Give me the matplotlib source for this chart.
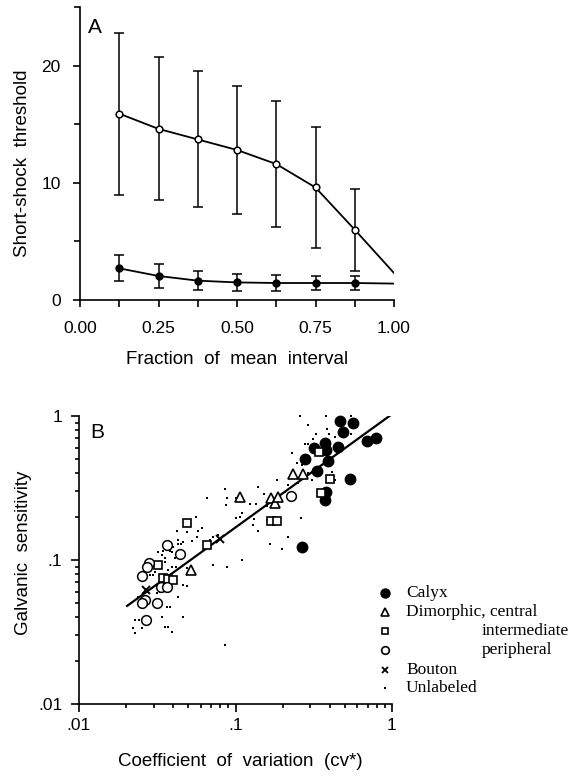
import matplotlib
matplotlib.use('Agg')
import matplotlib.pyplot as plt
from matplotlib.ticker import LogLocator, NullFormatter
from matplotlib.lines import Line2D

plt.rcParams['font.family'] = ['Liberation Sans', 'DejaVu Sans']

# ---------------- Panel A data ----------------
frac = [0.125, 0.25, 0.375, 0.5, 0.625, 0.75, 0.875]
frac_end = 1.0
long_mean = [15.9, 14.6, 13.7, 12.8, 11.6, 9.6, 6.0]
long_sd = [6.9, 6.1, 5.8, 5.5, 5.4, 5.2, 3.5]
long_end = 2.3
short_mean = [2.7, 2.05, 1.65, 1.5, 1.45, 1.45, 1.45]
short_sd = [1.1, 1.0, 0.8, 0.75, 0.65, 0.6, 0.6]
short_end = 1.4
xticks_A = [0.0, 0.25, 0.5, 0.75, 1.0]
xticklabels_A = ['0.00', '0.25', '0.50', '0.75', '1.00']
yticks_A = [0, 10, 20]

# ---------------- Panel B data ----------------
calyx_cv = [0.466, 0.566, 0.484, 0.695, 0.375, 0.318, 0.378, 0.454, 0.279, 0.392,
            0.333, 0.54, 0.378, 0.375, 0.265, 0.79]
calyx_gs = [0.93, 0.90, 0.78, 0.67, 0.65, 0.60, 0.58, 0.61, 0.50, 0.49,
            0.415, 0.363, 0.298, 0.261, 0.124, 0.70]
central_cv = [0.107, 0.169, 0.179, 0.187, 0.234, 0.271, 0.0523]
central_gs = [0.275, 0.268, 0.25, 0.275, 0.395, 0.395, 0.0853]
inter_cv = [0.342, 0.402, 0.35, 0.168, 0.185, 0.0488, 0.0655, 0.032, 0.0346, 0.0372, 0.0397]
inter_gs = [0.565, 0.363, 0.29, 0.1875, 0.188, 0.18, 0.127, 0.0923, 0.0746, 0.0738, 0.0726]
periph_cv = [0.0365, 0.0442, 0.0281, 0.0271, 0.0253, 0.0334, 0.0363, 0.0266, 0.0252, 0.0316, 0.0269, 0.226]
periph_gs = [0.127, 0.110, 0.0948, 0.0893, 0.0775, 0.0653, 0.0653, 0.0527, 0.0505, 0.0505, 0.0385, 0.278]
bouton_cv = [0.0268, 0.0796]
bouton_gs = [0.062, 0.14]
unl_cv = [0.258, 0.38, 0.55, 0.29, 0.325, 0.278, 0.29, 0.315, 0.385, 0.395,
          0.55, 0.432, 0.228, 0.247, 0.265, 0.415, 0.432, 0.31, 0.29, 0.25,
          0.217, 0.207, 0.184,
          0.14, 0.0857, 0.066, 0.088, 0.10, 0.124, 0.135, 0.087, 0.151, 0.158,
          0.056, 0.107, 0.131, 0.139, 0.129, 0.158, 0.216, 0.166, 0.199, 0.262,
          0.061, 0.058, 0.053, 0.072, 0.077, 0.069, 0.049, 0.057, 0.046, 0.11,
          0.10,
          0.072, 0.088, 0.11, 0.049, 0.049, 0.0857,
          0.0424, 0.043, 0.043, 0.045, 0.0398, 0.039, 0.0343, 0.0339, 0.0355, 0.032,
          0.038, 0.041, 0.0355, 0.0371, 0.039, 0.0306, 0.0284, 0.0297, 0.0292, 0.0315,
          0.043, 0.046, 0.0329, 0.0238, 0.0365, 0.038, 0.0241, 0.0228, 0.0339, 0.0221,
          0.0253, 0.0228, 0.039, 0.0355, 0.0371, 0.046, 0.0418]
unl_gs = [1.0, 1.0, 1.0, 0.866, 0.75, 0.64, 0.64, 0.69, 0.81, 0.75,
          0.75, 0.71, 0.55, 0.47, 0.457, 0.41, 0.359, 0.359, 0.40, 0.34,
          0.332, 0.295, 0.36,
          0.32, 0.31, 0.27, 0.27, 0.27, 0.245, 0.245, 0.241, 0.287, 0.237,
          0.20, 0.20, 0.193, 0.16, 0.175, 0.19, 0.145, 0.13, 0.12, 0.197,
          0.168, 0.16, 0.135, 0.145, 0.149, 0.138, 0.157, 0.145, 0.133, 0.212,
          0.195,
          0.0923, 0.089, 0.10, 0.088, 0.066, 0.0257,
          0.16, 0.138, 0.129, 0.129, 0.123, 0.113, 0.115, 0.108, 0.104, 0.113,
          0.115, 0.103, 0.097, 0.0852, 0.089, 0.082, 0.0787, 0.0787, 0.064, 0.059,
          0.055, 0.067, 0.060, 0.055, 0.0472, 0.0472, 0.0383, 0.0383, 0.040, 0.0338,
          0.0338, 0.0313, 0.0316, 0.0342, 0.0342, 0.040, 0.089]
fit_cv = [0.0203, 1.0]
fit_gs = [0.048, 1.03]
ticks_B = [0.01, 0.1, 1]
ticklabels_B = ['.01', '.1', '1']
legend_labels = ['Calyx', 'Dimorphic, central', 'intermediate', 'peripheral', 'Bouton', 'Unlabeled']

W, H = 573, 779
fig = plt.figure(figsize=(W / 100, H / 100), dpi=100)

def style_axes(ax):
    for s in ['top', 'right']:
        ax.spines[s].set_visible(False)
    for s in ['left', 'bottom']:
        ax.spines[s].set_linewidth(1.2)

# ---------------- Panel A ----------------
axA = fig.add_axes([80 / W, 1 - 300 / H, 314 / W, 293 / H])
style_axes(axA)
axA.set_xlim(0, 1)
axA.set_ylim(0, 25)
axA.set_xticks(xticks_A)
axA.set_xticklabels(xticklabels_A)
axA.set_xticks([0.125, 0.375, 0.625, 0.875], minor=True)
axA.set_yticks(yticks_A)
axA.set_yticks([5, 15, 25], minor=True)
axA.tick_params(which='both', direction='out', width=1.2, labelsize=12.5)
axA.tick_params(axis='x', which='both', length=5, pad=10)
axA.tick_params(axis='y', which='major', length=5, pad=9)
axA.tick_params(axis='y', which='minor', length=4)

lc = 'black'
axA.plot(frac + [frac_end], long_mean + [long_end], color=lc, lw=1.3, zorder=2)
axA.plot(frac + [frac_end], short_mean + [short_end], color=lc, lw=1.3, zorder=2)
axA.errorbar(frac, long_mean, yerr=long_sd, fmt='none', ecolor=lc, elinewidth=1.1,
             capsize=3.5, capthick=1.1, zorder=2)
axA.errorbar(frac, short_mean, yerr=short_sd, fmt='none', ecolor=lc, elinewidth=1.1,
             capsize=3.5, capthick=1.1, zorder=2)
axA.plot(frac, long_mean, 'o', mfc='white', mec=lc, ms=4.8, mew=1.1, zorder=3)
axA.plot(frac, short_mean, 'o', mfc=lc, mec=lc, ms=5, zorder=3)

fig.text(88 / W, 1 - 33 / H, 'A', fontsize=15, va='baseline', ha='left')
fig.text(23 / W, 1 - 163 / H, 'Short-shock  threshold', rotation=90, fontsize=13.5,
         ha='center', va='center')
fig.text(237 / W, 1 - 360 / H, 'Fraction  of  mean  interval', fontsize=13.5,
         ha='center', va='center')

# ---------------- Panel B ----------------
axB = fig.add_axes([79 / W, 1 - 704 / H, 313 / W, 288 / H])
style_axes(axB)
axB.set_xscale('log')
axB.set_yscale('log')
axB.set_xlim(0.01, 1)
axB.set_ylim(0.01, 1)
axB.set_xticks(ticks_B)
axB.set_xticklabels(ticklabels_B)
axB.set_yticks(ticks_B)
axB.set_yticklabels(ticklabels_B)
for axis in (axB.xaxis, axB.yaxis):
    axis.set_minor_locator(LogLocator(base=10, subs=range(2, 10)))
    axis.set_minor_formatter(NullFormatter())
axB.tick_params(which='both', direction='out', width=1.2, labelsize=12.5)
axB.tick_params(which='major', length=6)
axB.tick_params(which='minor', length=3)
axB.tick_params(axis='x', which='major', pad=4)
axB.tick_params(axis='y', which='major', pad=6)

axB.plot(fit_cv, fit_gs, color=lc, lw=1.6, zorder=2)
axB.plot(unl_cv, unl_gs, 's', color=lc, ms=2.0, mew=0, clip_on=False, zorder=3)
axB.plot(calyx_cv, calyx_gs, 'o', mfc=lc, mec=lc, ms=7.5, clip_on=False, zorder=4)
axB.plot(central_cv, central_gs, '^', mfc='white', mec=lc, ms=6.8, mew=1.2, clip_on=False, zorder=4)
axB.plot(inter_cv, inter_gs, 's', mfc='white', mec=lc, ms=6.2, mew=1.2, clip_on=False, zorder=4)
axB.plot(periph_cv, periph_gs, 'o', mfc='white', mec=lc, ms=7.0, mew=1.1, clip_on=False, zorder=4)
axB.plot(bouton_cv, bouton_gs, 'x', color=lc, ms=5.5, mew=1.4, clip_on=False, zorder=4)

fig.text(90 / W, 1 - 438 / H, 'B', fontsize=15, va='baseline', ha='left')
fig.text(24 / W, 1 - 553 / H, 'Galvanic  sensitivity', rotation=90, fontsize=13.5,
         ha='center', va='center')
fig.text(240 / W, 1 - 762 / H, 'Coefficient  of  variation  (cv*)', fontsize=13.5,
         ha='center', va='center')

# ---------------- Legend ----------------
leg_rows_y = [593, 612, 631, 650, 670, 688]
leg_styles = [
    dict(marker='o', mfc=lc, mec=lc, ms=6.5),
    dict(marker='^', mfc='white', mec=lc, ms=5.5, mew=1.2),
    dict(marker='s', mfc='white', mec=lc, ms=5.0, mew=1.2),
    dict(marker='o', mfc='white', mec=lc, ms=5.5, mew=1.2),
    dict(marker='x', color=lc, ms=5.0, mew=1.3),
    dict(marker='s', color=lc, ms=1.8, mew=0),
]
text_x = [406, 406, 482, 482, 406, 406]
for lab, py, st, tx in zip(legend_labels, leg_rows_y, leg_styles, text_x):
    y = 1 - py / H
    fig.add_artist(Line2D([385 / W], [y], linestyle='none', transform=fig.transFigure, **st))
    fig.text(tx / W, y, lab, fontsize=12.5, va='center', ha='left',
             family=['Liberation Serif', 'DejaVu Serif'])

fig.savefig('out.png', dpi=100)
